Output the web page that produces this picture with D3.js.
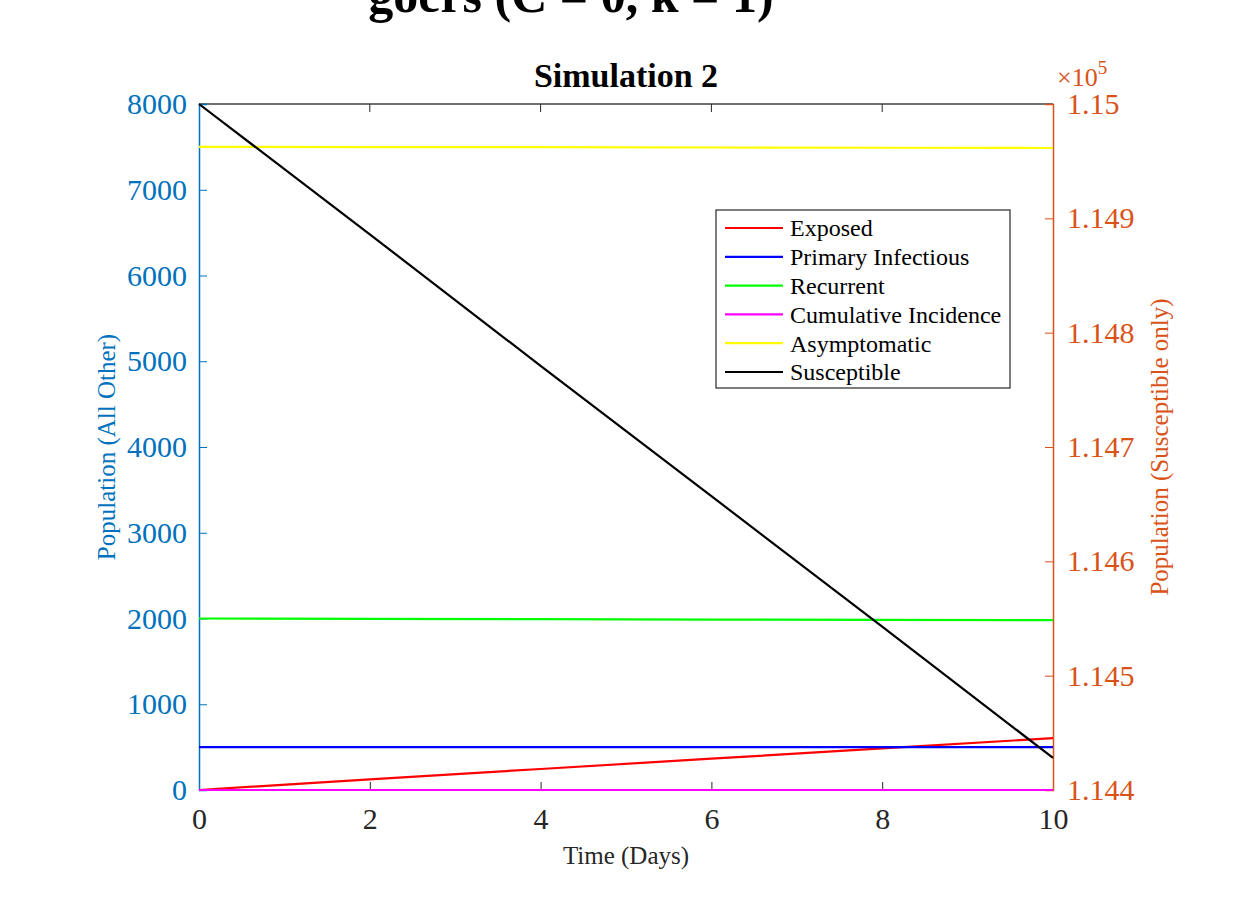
<!DOCTYPE html>
<html>
<head>
<meta charset="utf-8">
<script src="https://cdn.jsdelivr.net/npm/d3@7"></script>
<style>
  body { margin: 0; background: #fff; }
  svg { font-family: 'Liberation Serif', 'Times New Roman', serif; }
</style>
</head>
<body>
<svg id="chart" width="1238" height="911"></svg>
<script>
// data
var days = [0, 2, 4, 6, 8, 10];
var exposed = [0, 125, 245, 365, 485, 605];
var primaryInfectious = [500, 500, 500, 500, 500, 500];
var recurrent = [2000, 1996, 1992, 1988, 1984, 1980];
var cumulativeIncidence = [0, 0, 0, 0, 0, 0];
var asymptomatic = [7500, 7498, 7496, 7493, 7490, 7487];
var susceptible = [115000, 114886, 114771, 114657, 114543, 114428];

var seriesNames = ['Exposed', 'Primary Infectious', 'Recurrent', 'Cumulative Incidence', 'Asymptomatic', 'Susceptible'];
var seriesColors = ['#ff0000', '#0000ff', '#00ff00', '#ff00ff', '#ffff00', '#000000'];
var leftTicks = [0, 1000, 2000, 3000, 4000, 5000, 6000, 7000, 8000];
var rightTicks = [114400, 114500, 114600, 114700, 114800, 114900, 115000];
var xTicks = [0, 2, 4, 6, 8, 10];

var leftColor = '#0072bd';
var rightColor = '#d95319';

var margin = {top: 104, left: 199, right: 185, bottom: 121};
var width = 1238 - margin.left - margin.right;
var height = 911 - margin.top - margin.bottom;

var svg = d3.select('#chart');
var g = svg.append('g').attr('transform', 'translate(' + margin.left + ',' + margin.top + ')');

var x = d3.scaleLinear().domain([0, 10]).range([0, width]);
var yL = d3.scaleLinear().domain([0, 8000]).range([height, 0]);
var yR = d3.scaleLinear().domain([114400, 115000]).range([height, 0]);

// cut-off figure title at the very top
svg.append('text')
  .attr('x', 571)
  .attr('y', 12)
  .attr('text-anchor', 'middle')
  .style('font-size', '50px')
  .style('font-weight', 'bold')
  .text('goers (C = 0, k = 1)');

// plot title
svg.append('text')
  .attr('x', margin.left + width / 2)
  .attr('y', 87)
  .attr('text-anchor', 'middle')
  .style('font-size', '34px')
  .style('font-weight', 'bold')
  .attr('fill', '#000')
  .text('Simulation 2');

// top box edge with mirrored ticks
g.append('line')
  .attr('x1', 0).attr('x2', width)
  .attr('y1', 0).attr('y2', 0)
  .attr('stroke', '#404040').attr('stroke-width', 1.5);
g.selectAll('.topTick')
  .data(xTicks.slice(1, -1))
  .enter()
  .append('line')
  .attr('x1', d => x(d)).attr('x2', d => x(d))
  .attr('y1', 0).attr('y2', 8)
  .attr('stroke', '#262626');

// x axis
var xAxis = d3.axisBottom(x)
  .tickValues(xTicks)
  .tickSize(-8)
  .tickPadding(18)
  .tickFormat(d3.format('d'));

var gx = g.append('g')
  .attr('class', 'axis')
  .attr('transform', 'translate(0,' + height + ')')
  .call(xAxis);
gx.select('.domain').attr('stroke', '#262626');
gx.selectAll('.tick line').attr('stroke', '#262626');
gx.selectAll('.tick text')
  .attr('fill', '#262626')
  .style('font-family', 'Liberation Serif')
  .style('font-size', '30px');

// left axis
var yAxisL = d3.axisLeft(yL)
  .tickValues(leftTicks)
  .tickSize(-8)
  .tickPadding(12)
  .tickFormat(d3.format('d'));

var gl = g.append('g')
  .attr('class', 'axis')
  .call(yAxisL);
gl.select('.domain').attr('stroke', leftColor).attr('stroke-width', 1.5);
gl.selectAll('.tick line').attr('stroke', leftColor);
gl.selectAll('.tick text')
  .attr('fill', leftColor)
  .style('font-family', 'Liberation Serif')
  .style('font-size', '30px');

// right axis
var yAxisR = d3.axisRight(yR)
  .tickValues(rightTicks)
  .tickSize(-8)
  .tickPadding(14)
  .tickFormat(d => d3.format('.3~f')(d / 1e5));

var gr = g.append('g')
  .attr('class', 'axis')
  .attr('transform', 'translate(' + width + ',0)')
  .call(yAxisR);
gr.select('.domain').attr('stroke', rightColor).attr('stroke-width', 1.5);
gr.selectAll('.tick line').attr('stroke', rightColor);
gr.selectAll('.tick text')
  .attr('fill', rightColor)
  .style('font-family', 'Liberation Serif')
  .style('font-size', '30px');

// lines, drawn over the axes
var leftSeries = [exposed, primaryInfectious, recurrent, cumulativeIncidence, asymptomatic];
var lineL = d3.line().x((d, i) => x(days[i])).y(d => yL(d));
var lineR = d3.line().x((d, i) => x(days[i])).y(d => yR(d));

leftSeries.forEach(function (s, k) {
  g.append('path')
    .datum(s)
    .attr('fill', 'none')
    .attr('stroke', seriesColors[k])
    .attr('stroke-width', 2.2)
    .attr('d', lineL);
});

g.append('path')
  .datum(susceptible)
  .attr('fill', 'none')
  .attr('stroke', seriesColors[5])
  .attr('stroke-width', 2.2)
  .attr('d', lineR);

// exponent label
var expo = svg.append('text')
  .attr('x', margin.left + width + 4)
  .attr('y', 86)
  .attr('fill', rightColor)
  .style('font-size', '26px');
expo.append('tspan').text('\u00d710');
expo.append('tspan').text('5')
  .attr('dy', -12)
  .style('font-size', '19px');

// axis labels
svg.append('text')
  .attr('x', margin.left + width / 2)
  .attr('y', 864)
  .attr('text-anchor', 'middle')
  .attr('fill', '#262626')
  .style('font-size', '25px')
  .text('Time (Days)');

svg.append('text')
  .attr('transform', 'translate(115,' + (margin.top + height / 2) + ') rotate(-90)')
  .attr('text-anchor', 'middle')
  .attr('fill', leftColor)
  .style('font-size', '25px')
  .text('Population (All Other)');

svg.append('text')
  .attr('transform', 'translate(1168,' + (margin.top + height / 2) + ') rotate(-90)')
  .attr('text-anchor', 'middle')
  .attr('fill', rightColor)
  .style('font-size', '25px')
  .text('Population (Susceptible only)');

// legend
var legend = svg.append('g').attr('transform', 'translate(716,210)');
legend.append('rect')
  .attr('width', 294)
  .attr('height', 178)
  .attr('fill', '#fff')
  .attr('stroke', '#262626')
  .attr('stroke-width', 1.2);

var rows = legend.selectAll('.row')
  .data(seriesNames)
  .enter()
  .append('g')
  .attr('class', 'row')
  .attr('transform', (d, i) => 'translate(0,' + (18 + i * 28.8) + ')');

rows.append('line')
  .attr('x1', 9).attr('x2', 67)
  .attr('stroke', (d, i) => seriesColors[i])
  .attr('stroke-width', 2.2);

rows.append('text')
  .attr('x', 74)
  .attr('dy', '0.35em')
  .attr('fill', '#000')
  .style('font-size', '24px')
  .text(d => d);
</script>
</body>
</html>
